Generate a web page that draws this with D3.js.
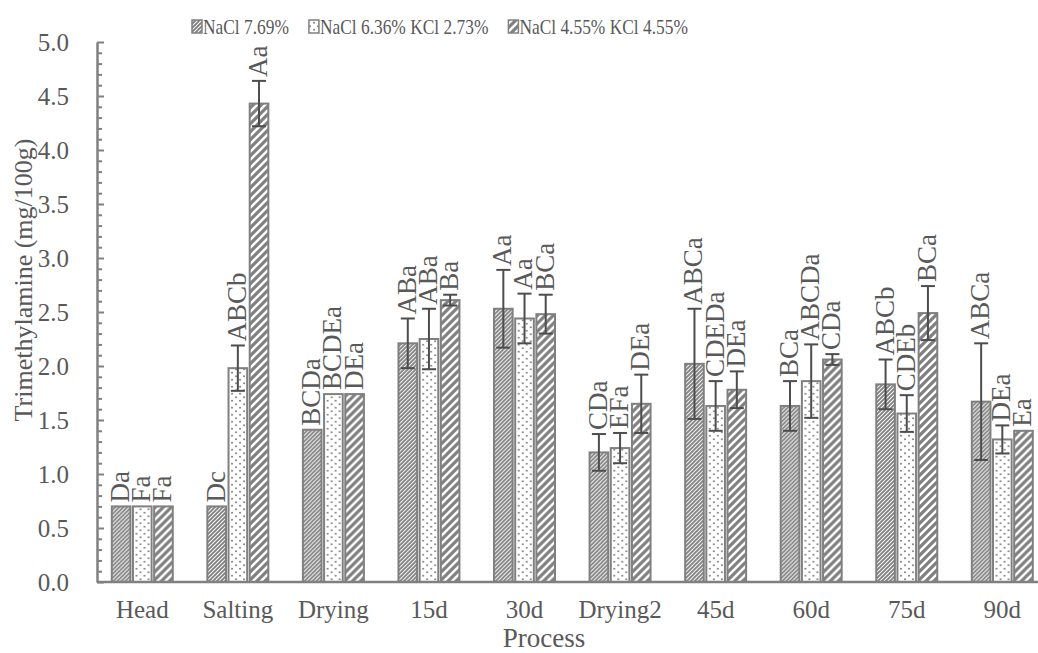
<!DOCTYPE html>
<html>
<head>
<meta charset="utf-8">
<script src="https://cdn.jsdelivr.net/npm/d3@7"></script>
<style>
  html, body { margin: 0; padding: 0; background: #fff; }
  svg { display: block; font-family: "Liberation Serif", "Times New Roman", serif; }
</style>
</head>
<body>
<svg id="chart" width="1038" height="653"></svg>
<script>
// Data
const categories = ["Head", "Salting", "Drying", "15d", "30d", "Drying2", "45d", "60d", "75d", "90d"];
const series = ["NaCl 7.69%", "NaCl 6.36% KCl 2.73%", "NaCl 4.55% KCl 4.55%"];

const nacl = [0.70, 0.70, 1.41, 2.21, 2.53, 1.20, 2.02, 1.63, 1.83, 1.67];
const naclKcl1 = [0.70, 1.98, 1.74, 2.25, 2.44, 1.24, 1.63, 1.86, 1.56, 1.32];
const naclKcl2 = [0.70, 4.43, 1.74, 2.61, 2.48, 1.65, 1.78, 2.06, 2.49, 1.40];

const err1 = [0, 0, 0, 0.23, 0.36, 0.17, 0.51, 0.23, 0.23, 0.54];
const err2 = [0, 0.21, 0, 0.28, 0.23, 0.14, 0.23, 0.34, 0.17, 0.13];
const err3 = [0, 0.21, 0, 0.05, 0.18, 0.27, 0.17, 0.05, 0.25, 0];

const letters1 = ["Da", "Dc", "BCDa", "ABa", "Aa", "CDa", "ABCa", "BCa", "ABCb", "ABCa"];
const letters2 = ["Fa", "ABCb", "BCDEa", "ABa", "Aa", "EFa", "CDEDa", "ABCDa", "CDEb", "DEa"];
const letters3 = ["Fa", "Aa", "DEa", "Ba", "BCa", "DEa", "DEa", "CDa", "BCa", "Ea"];

const yMajor = d3.range(0, 5.01, 0.5);
const yMinor = d3.range(0, 50.1, 1).map(d => d / 10).filter(d => Math.round(d * 10) % 5 !== 0);

// Build rows for the join
const values = [nacl, naclKcl1, naclKcl2];
const errors = [err1, err2, err3];
const letters = [letters1, letters2, letters3];
const rows = categories.map((c, i) => ({
    category: c,
    bars: series.map((s, j) => ({
        series: s, idx: j, value: values[j][i], err: errors[j][i], letter: letters[j][i]
    }))
}));

const svg = d3.select("#chart");
const grey = "#808080";
const textGrey = "#595959";
const errGrey = "#4d4d4d";

// Patterns
const defs = svg.append("defs");
const p1 = defs.append("pattern").attr("id", "pat0")
    .attr("patternUnits", "userSpaceOnUse").attr("width", 4).attr("height", 4);
p1.append("rect").attr("width", 4).attr("height", 4).attr("fill", "#fff");
p1.append("path").attr("d", "M-1,1 l2,-2 M0,4 l4,-4 M3,5 l2,-2")
    .attr("stroke", grey).attr("stroke-width", 1.9);

const p2 = defs.append("pattern").attr("id", "pat1")
    .attr("patternUnits", "userSpaceOnUse").attr("width", 8).attr("height", 7);
p2.append("rect").attr("width", 8).attr("height", 7).attr("fill", "#fff");
p2.append("circle").attr("cx", 2).attr("cy", 1.8).attr("r", 1).attr("fill", grey);
p2.append("circle").attr("cx", 6).attr("cy", 5.3).attr("r", 1).attr("fill", grey);

const p3 = defs.append("pattern").attr("id", "pat2")
    .attr("patternUnits", "userSpaceOnUse").attr("width", 8).attr("height", 8);
p3.append("rect").attr("width", 8).attr("height", 8).attr("fill", "#fff");
p3.append("path").attr("d", "M-2,2 l4,-4 M0,8 l8,-8 M6,10 l4,-4")
    .attr("stroke", grey).attr("stroke-width", 3.2);

// Scales
const y = d3.scaleLinear().domain([0, 5]).range([582, 42]);
const x0 = d3.scaleBand().domain(categories).range([94.5, 1050.1]);
const inner = 61;
const x1 = d3.scaleBand().domain(series)
    .range([(x0.bandwidth() - inner) / 2, (x0.bandwidth() + inner) / 2])
    .paddingInner(0.12);

// Y axis: minor ticks then major ticks with labels
svg.append("g").attr("transform", "translate(97,0)")
    .call(d3.axisLeft(y).tickValues(yMinor).tickSizeInner(-5).tickSizeOuter(0).tickFormat(""))
    .call(g => g.select(".domain").remove())
    .call(g => g.selectAll("line").attr("stroke", grey).attr("stroke-width", 2));

const yAxis = svg.append("g").attr("transform", "translate(97,0)")
    .call(d3.axisLeft(y).tickValues(yMajor).tickSizeInner(-7).tickSizeOuter(0)
        .tickPadding(28).tickFormat(d3.format(".1f")));
yAxis.select(".domain").attr("stroke", grey).attr("stroke-width", 2.5);
yAxis.selectAll("line").attr("stroke", grey).attr("stroke-width", 2);
yAxis.selectAll("text").attr("fill", textGrey).attr("font-size", 25)
    .attr("font-family", "Liberation Serif, Times New Roman, serif");

// Bars
const groups = svg.append("g").selectAll("g.grp")
    .data(rows).join("g").attr("class", "grp")
    .attr("transform", d => `translate(${x0(d.category)},0)`);

groups.selectAll("rect.bar").data(d => d.bars).join("rect").attr("class", "bar")
    .attr("x", d => x1(d.series))
    .attr("y", d => y(d.value))
    .attr("width", x1.bandwidth())
    .attr("height", d => y(0) - y(d.value))
    .attr("fill", d => `url(#pat${d.idx})`)
    .attr("stroke", grey).attr("stroke-width", 2);

// Error bars
const cap = 7;
const eb = groups.selectAll("g.err").data(d => d.bars.filter(b => b.err > 0)).join("g")
    .attr("class", "err")
    .attr("transform", d => `translate(${x1(d.series) + x1.bandwidth() / 2},0)`)
    .attr("stroke", errGrey).attr("stroke-width", 2);
eb.append("line").attr("y1", d => y(d.value - d.err)).attr("y2", d => y(d.value + d.err));
eb.append("line").attr("x1", -cap).attr("x2", cap)
    .attr("y1", d => y(d.value + d.err)).attr("y2", d => y(d.value + d.err));
eb.append("line").attr("x1", -cap).attr("x2", cap)
    .attr("y1", d => y(d.value - d.err)).attr("y2", d => y(d.value - d.err));

// Significance letters, rotated above each bar
groups.selectAll("text.sig").data(d => d.bars).join("text").attr("class", "sig")
    .attr("transform", d => `translate(${x1(d.series) + x1.bandwidth() / 2 - 1},${y(d.value + d.err) - 4}) rotate(-90)`)
    .attr("dy", "0.33em")
    .attr("font-size", 27).attr("fill", textGrey)
    .text(d => d.letter);

// X axis
const xAxis = svg.append("g").attr("transform", `translate(0,${y(0)})`)
    .call(d3.axisBottom(x0).tickSize(0).tickSizeOuter(0).tickPadding(18));
xAxis.select(".domain").attr("stroke", grey).attr("stroke-width", 2.5)
    .attr("d", `M97,0H1051`);
xAxis.selectAll("text").attr("fill", textGrey).attr("font-size", 25)
    .attr("font-family", "Liberation Serif, Times New Roman, serif");

// Axis titles
svg.append("text").attr("x", 544).attr("y", 647).attr("text-anchor", "middle")
    .attr("font-size", 27).attr("fill", textGrey).text("Process");
svg.append("text").attr("transform", "translate(32,280) rotate(-90)")
    .attr("text-anchor", "middle").attr("font-size", 26).attr("fill", textGrey)
    .text("Trimethylamine (mg/100g)");

// Legend (text in the reference is slightly condensed)
const legend = svg.append("g");
let lx = 192;
series.forEach((s, j) => {
    legend.append("rect").attr("x", lx).attr("y", 20).attr("width", 10).attr("height", 13)
        .attr("fill", `url(#pat${j})`).attr("stroke", grey).attr("stroke-width", 1.5);
    const t = legend.append("text").attr("x", lx + 11).attr("y", 34)
        .attr("font-size", 22).attr("fill", textGrey).text(s);
    const w = t.node().getComputedTextLength() * 0.79;
    t.attr("textLength", w).attr("lengthAdjust", "spacingAndGlyphs");
    lx += 11 + w + 20;
});
</script>
</body>
</html>
